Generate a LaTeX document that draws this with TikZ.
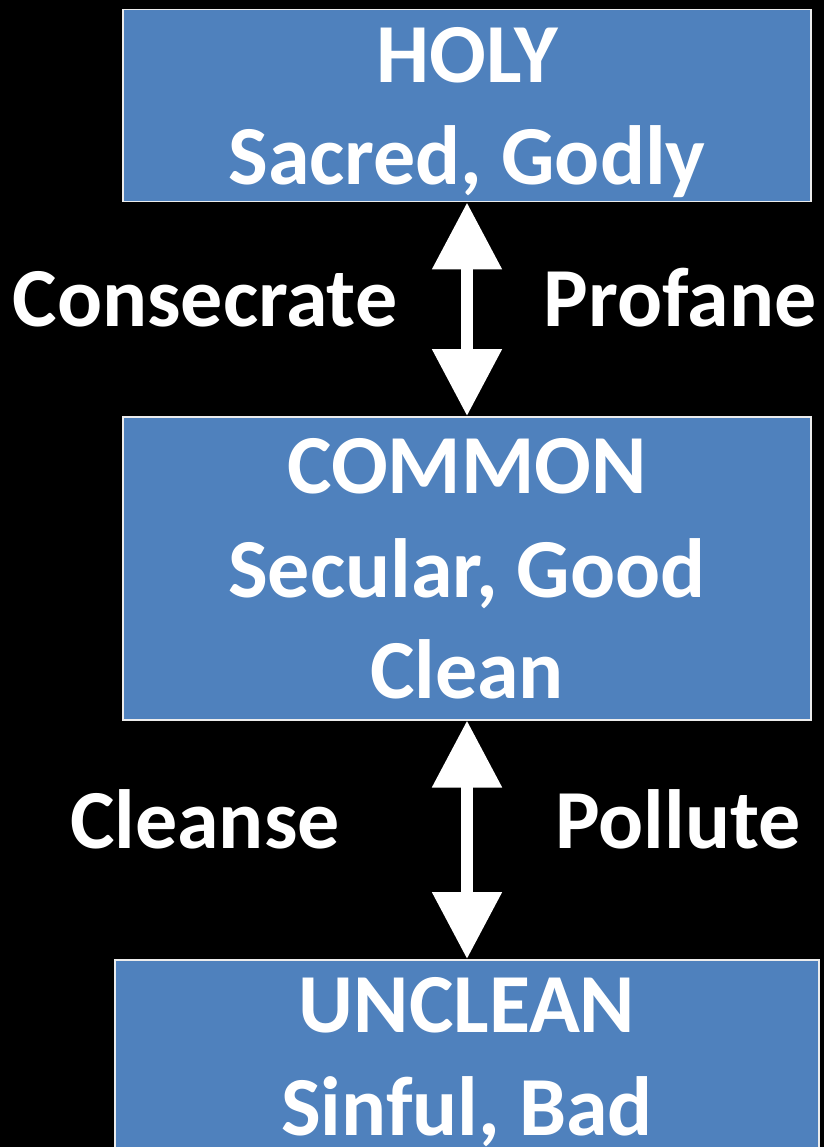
\documentclass[tikz,border=0pt]{standalone}
\usepackage{fontspec}
\setmainfont{Carlito}
\usetikzlibrary{arrows.meta,positioning}

\begin{document}
\begin{tikzpicture}[x=1pt, y=-1pt,
	every node/.style={text=white, font=\fontsize{84}{101}\selectfont\bfseries, anchor=base},
	state/.style={draw=white!85!gray, line width=1.5pt, fill={rgb,255:red,79;green,129;blue,189}, inner sep=0pt, anchor=north},
	change/.style={white, line width=12pt, {Triangle[width=67pt,length=67pt]}-{Triangle[width=67pt,length=67pt]}}]
	\fill[black] (0,0) rectangle (824,1147);
	\useasboundingbox (0,0) rectangle (824,1147);
	\clip (0,0) rectangle (824,1147);

	% the three states
	\node[state, minimum width=688pt, minimum height=192pt] (holy) at (467,9) {};
	\node[state, minimum width=688pt, minimum height=303pt] (common) at (467,416) {};
	\node[state, minimum width=704pt, minimum height=194pt] (unclean) at (467,959) {};

	\node (holy name) at (467,83) {HOLY};
	\node (holy sense) at (467,185) {Sacred, Godly};
	\node (common name) at (467,493) {COMMON};
	\node (common sense) at (467,597) {Secular, Good};
	\node (common clean) at (467,698) {Clean};
	\node (unclean name) at (467,1032) {UNCLEAN};
	\node (unclean sense) at (467,1135) {Sinful, Bad};

	\draw[change] (holy) -- (common);
	\draw[change] (common) -- (unclean);

	\node (consecrate) at (205,326) {Consecrate};
	\node (profane) at (680,326) {Profane};
	\node (cleanse) at (205,848) {Cleanse};
	\node (pollute) at (678,848) {Pollute};
\end{tikzpicture}
\end{document}
